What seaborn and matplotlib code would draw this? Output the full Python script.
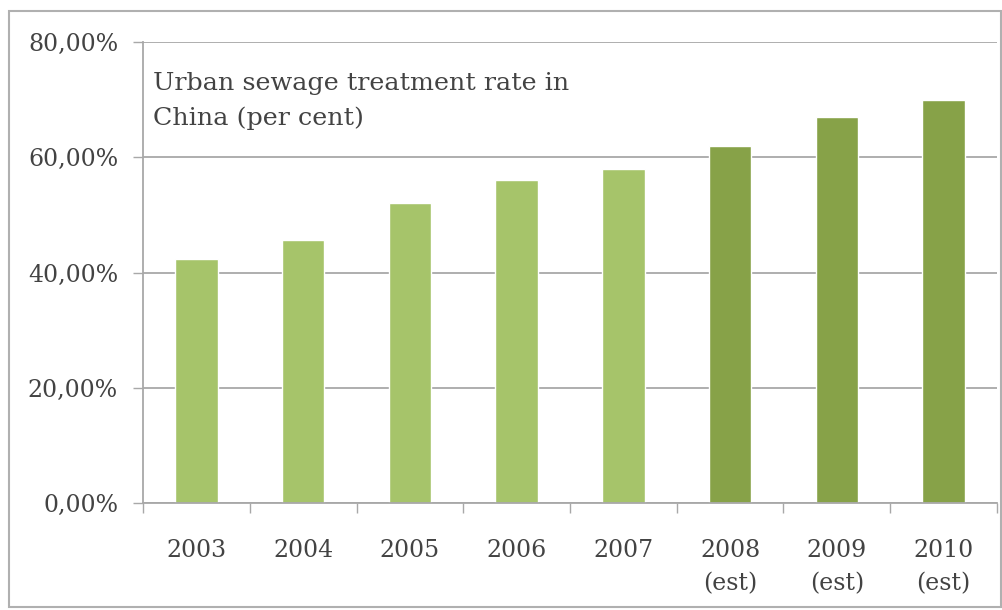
import matplotlib
matplotlib.use("Agg")
import matplotlib.pyplot as plt
from matplotlib.patches import Rectangle
from matplotlib.ticker import FuncFormatter
import seaborn as sns
import pandas as pd

years = ["2003", "2004", "2005", "2006", "2007", "2008\n(est)", "2009\n(est)", "2010\n(est)"]
rates = [42.3, 45.6, 52.0, 56.0, 58.0, 62.0, 67.0, 70.0]
kinds = ["actual"] * 5 + ["estimate"] * 3
yticks = [0, 20, 40, 60, 80]
title = "Urban sewage treatment rate in\nChina (per cent)"

palette = {"actual": "#A6C46A", "estimate": "#87A248"}
text_col = "#434343"
grid_col = "#A8A8A8"

sns.set_theme(style="white")
plt.rcParams["font.family"] = ["DejaVu Serif"]

df = pd.DataFrame({"year": years, "rate": rates, "kind": kinds})

fig = plt.figure(figsize=(10.03, 6.10), dpi=100)
ax = fig.add_axes([0.1426, 0.1754, 0.8514, 0.7557])

sns.barplot(data=df, x="year", y="rate", hue="kind", palette=palette,
            dodge=False, width=0.4, legend=False, ax=ax, saturation=1)

ax.set_ylim(0, 80)
ax.set_xlim(-0.5, len(years) - 0.5)
ax.set_yticks(yticks)
ax.yaxis.set_major_formatter(FuncFormatter(lambda v, p: f"{v:.2f}".replace(".", ",") + "%"))
ax.yaxis.grid(True, color=grid_col, linewidth=1.3)
ax.set_axisbelow(True)

# category labels at bar centres, small ticks at category boundaries
ax.set_xticks(range(len(years)))
ax.set_xticklabels(years, linespacing=1.55)
ax.set_xticks([i - 0.5 for i in range(len(years) + 1)], minor=True)
ax.tick_params(axis="x", which="major", length=0, pad=26, labelsize=17, labelcolor=text_col)
ax.tick_params(axis="x", which="minor", length=7, width=1, color=grid_col, direction="out", bottom=True)
ax.tick_params(axis="y", which="major", length=7, width=1, color=grid_col, direction="out",
               left=True, pad=11, labelsize=17, labelcolor=text_col)

for s in ["top", "right"]:
    ax.spines[s].set_visible(False)
for s in ["left", "bottom"]:
    ax.spines[s].set_color(grid_col)
    ax.spines[s].set_linewidth(1.3)

ax.set_xlabel("")
ax.set_ylabel("")

ax.text(0.012, 0.936, title, transform=ax.transAxes, ha="left", va="top",
        fontsize=18.3, color=text_col, linespacing=1.65)

# outer chart frame
fig.patches.append(Rectangle((0.009, 0.005), 0.989, 0.977, transform=fig.transFigure,
                             fill=False, edgecolor="#B0B0B0", linewidth=1.5))

fig.savefig("out.png", dpi=100)
